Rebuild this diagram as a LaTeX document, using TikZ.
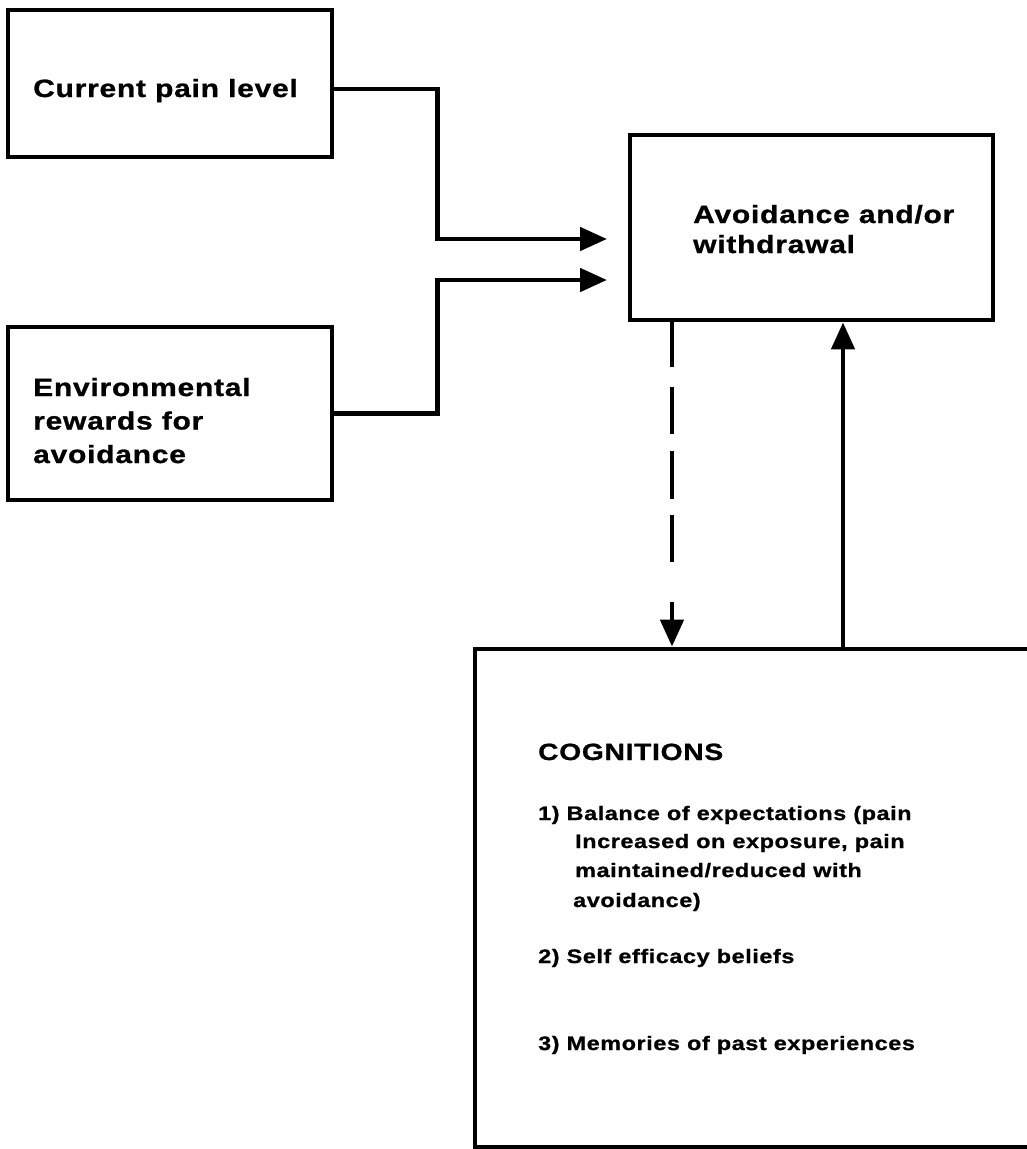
\documentclass[tikz,border=0pt]{standalone}
\usepackage{fontspec}
\newfontfamily\dfont{Liberation Sans Bold}[FakeStretch=1.2,LetterSpace=3,FakeBold=1]
\usetikzlibrary{arrows.meta}
\begin{document}
\begin{tikzpicture}[x=1pt,y=-1pt,
  box/.style={draw, line width=4.8pt, inner sep=0pt},
  lbl/.style={anchor=base west, inner sep=0pt, font=\dfont\fontsize{25}{30}\selectfont},
  head/.style={anchor=base west, inner sep=0pt, font=\dfont\fontsize{23.5}{29}\selectfont},
  itm/.style={anchor=base west, inner sep=0pt, font=\dfont\fontsize{19.5}{29}\selectfont},
  conn/.style={line width=4.8pt, -{Triangle[length=27pt,width=23pt]}},
  dashconn/.style={conn, dash pattern={on 45pt off 20pt on 47pt off 17pt on 48pt off 16pt on 47pt off 40pt on 80pt}}]
\useasboundingbox (0,0) rectangle (1027,1149);
\clip (0,0) rectangle (1027,1149);
\fill[white] (0,0) rectangle (1027,1149);

% boxes
\node[box, minimum width=324pt, minimum height=147pt] (pain) at (170,83.5) {};
\node[box, minimum width=324pt, minimum height=173pt] (env) at (170,413.5) {};
\node[box, minimum width=363pt, minimum height=185pt] (avoid) at (811.5,227.5) {};
\node[box, minimum width=590pt, minimum height=498pt] (cog) at (770,898) {};

% texts
\node[lbl] (painT) at (33,97) {Current pain level};
\node[lbl] (envT1) at (33,396) {Environmental};
\node[lbl] (envT2) at (33,429.5) {rewards for};
\node[lbl] (envT3) at (33,463) {avoidance};
\node[lbl] (avT1) at (693,223) {Avoidance and/or};
\node[lbl] (avT2) at (693,253) {withdrawal};
\node[head] (cogT) at (538,760) {COGNITIONS};
\node[itm] (i1a) at (538,820) {1) Balance of expectations (pain};
\node[itm] (i1b) at (575,848) {Increased on exposure, pain};
\node[itm] (i1c) at (575,877) {maintained/reduced with};
\node[itm] (i1d) at (573,907) {avoidance)};
\node[itm] (i2) at (538,963) {2) Self efficacy beliefs};
\node[itm] (i3) at (538,1050) {3) Memories of past experiences};

% connectors
\coordinate (t1) at (607,239);
\coordinate (t2) at (607,280);
\coordinate (xd) at (672,0);
\coordinate (xu) at (843,0);
\draw[conn] ([yshift=-5.5pt]pain.east) -- ++(103,0) |- (t1);
\draw[conn] (env.east) -- ++(103,0) |- (t2);
\draw[dashconn] (avoid.south -| xd) -- (cog.north -| xd);
\draw[conn] (cog.north -| xu) -- (avoid.south -| xu);
\end{tikzpicture}
\end{document}
